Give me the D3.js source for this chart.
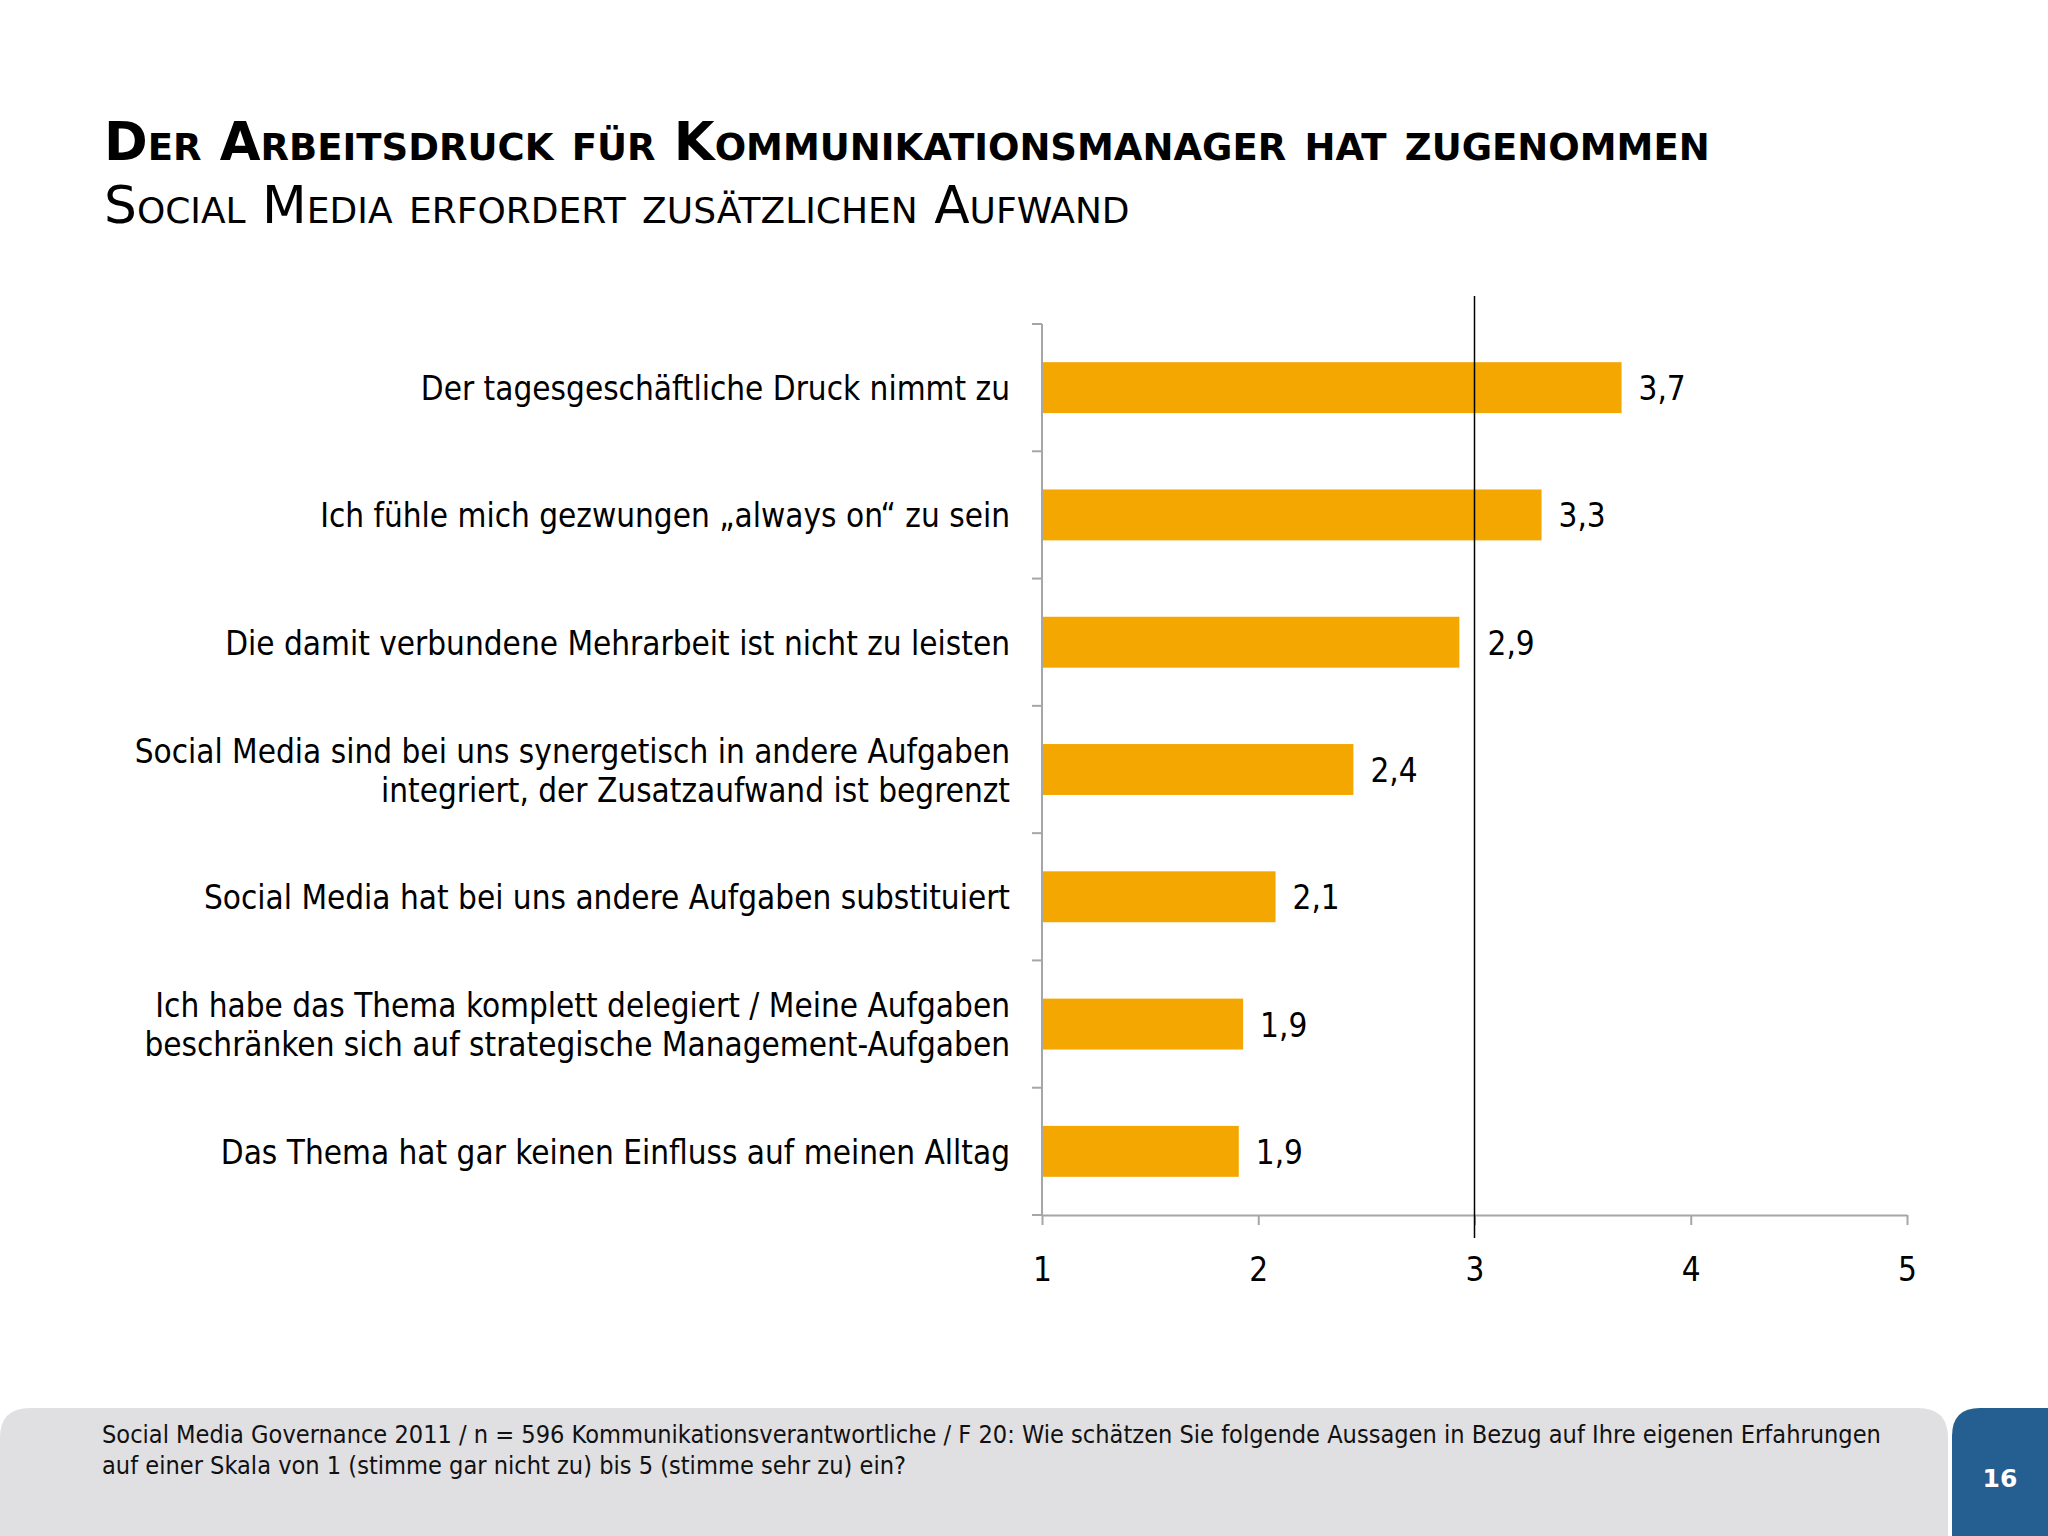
<!DOCTYPE html>
<html><head><meta charset="utf-8">
<script src="https://cdn.jsdelivr.net/npm/d3@7"></script>
<style>
html,body{margin:0;padding:0;background:#fff;}
svg{display:block;}
</style></head>
<body>
<svg id="chart" width="2048" height="1536"></svg>
<script>
const titleLine1 = "Der Arbeitsdruck für Kommunikationsmanager hat zugenommen";
const titleLine2 = "Social Media erfordert zusätzlichen Aufwand";
const categories = [
  ["Der tagesgeschäftliche Druck nimmt zu"],
  ["Ich fühle mich gezwungen „always on“ zu sein"],
  ["Die damit verbundene Mehrarbeit ist nicht zu leisten"],
  ["Social Media sind bei uns synergetisch in andere Aufgaben", "integriert, der Zusatzaufwand ist begrenzt"],
  ["Social Media hat bei uns andere Aufgaben substituiert"],
  ["Ich habe das Thema komplett delegiert / Meine Aufgaben", "beschränken sich auf strategische Management-Aufgaben"],
  ["Das Thema hat gar keinen Einfluss auf meinen Alltag"]
];
const values = [3.68, 3.31, 2.93, 2.44, 2.08, 1.93, 1.91];
const xTicks = [1, 2, 3, 4, 5];
const referenceValue = 3;
const footnote = [
  "Social Media Governance 2011 / n = 596 Kommunikationsverantwortliche / F 20: Wie schätzen Sie folgende Aussagen in Bezug auf Ihre eigenen Erfahrungen",
  "auf einer Skala von 1 (stimme gar nicht zu) bis 5 (stimme sehr zu) ein?"
];
const pageNumber = "16";

const svg = d3.select("#chart");
const FONT = "'DejaVu Sans Condensed', 'DejaVu Sans', sans-serif";

// Title
svg.append("text").attr("x", 104).attr("y", 160)
  .style("font-family", "'DejaVu Sans', sans-serif").style("font-weight", "bold")
  .style("font-variant", "small-caps").style("font-size", "52.7px").attr("fill", "#000")
  .text(titleLine1);
svg.append("text").attr("x", 104).attr("y", 223)
  .style("font-family", "'DejaVu Sans', sans-serif")
  .style("font-variant", "small-caps").style("font-size", "51.8px").attr("fill", "#000")
  .text(titleLine2);

// Scales
const x = d3.scaleLinear().domain([1, 5]).range([1042, 1907]);
const idx = categories.map((d, i) => i);
const y = d3.scaleBand().domain(idx).range([324, 1215]).paddingInner(0.6).paddingOuter(0.3);
const step = y.step();
const axisColor = "#a6a6a6";

// Bars
svg.append("g").selectAll("rect").data(values).join("rect")
  .attr("x", x(1))
  .attr("y", (d, i) => y(i))
  .attr("width", d => x(d) - x(1))
  .attr("height", y.bandwidth())
  .attr("fill", "#f4a700");

// Y axis line + category boundary ticks
const yr = y.range();
const g = svg.append("g");
g.append("line").attr("x1", x(1)).attr("x2", x(1)).attr("y1", yr[0]).attr("y2", yr[1])
  .attr("stroke", axisColor).attr("stroke-width", 2);
g.selectAll("line.yt").data(d3.range(categories.length + 1)).join("line")
  .attr("class", "yt")
  .attr("x1", x(1) - 10).attr("x2", x(1))
  .attr("y1", i => yr[0] + i * step).attr("y2", i => yr[0] + i * step)
  .attr("stroke", axisColor).attr("stroke-width", 2);

// X axis
const xAxis = d3.axisBottom(x).tickValues(xTicks).tickSize(10).tickSizeOuter(0).tickPadding(33)
  .tickFormat(d => String(d));
const xg = svg.append("g").attr("transform", `translate(0,${yr[1]})`).call(xAxis);
xg.select(".domain").attr("stroke", axisColor).attr("stroke-width", 2);
xg.selectAll(".tick line").attr("stroke", axisColor).attr("stroke-width", 2);
xg.selectAll(".tick text").style("font-family", FONT).style("font-size", "33px").attr("fill", "#000");

// Reference line
svg.append("line").attr("x1", x(referenceValue)).attr("x2", x(referenceValue))
  .attr("y1", 296).attr("y2", 1238).attr("stroke", "#000").attr("stroke-width", 1.5);

// Value labels (nudged right when they would touch the reference line)
const fmt = v => d3.format(".1f")(v).replace(".", ",");
const labelX = d => {
  const lx = x(d) + 17;
  const rx = x(referenceValue);
  return (lx < rx + 12 && lx + 45 > rx) ? rx + 13 : lx;
};
svg.append("g").selectAll("text").data(values).join("text")
  .attr("x", d => labelX(d))
  .attr("y", (d, i) => y(i) + y.bandwidth() / 2 + 1)
  .attr("dy", "0.35em")
  .style("font-family", FONT).style("font-size", "33px").attr("fill", "#000")
  .text(d => fmt(d));

// Category labels
const lg = svg.append("g");
categories.forEach((lines, i) => {
  const cy = y(i) + y.bandwidth() / 2 + 1;
  const lh = 39;
  const t = lg.append("text").attr("text-anchor", "end")
    .style("font-family", FONT).style("font-size", "33px").attr("fill", "#000");
  lines.forEach((ln, j) => {
    t.append("tspan").attr("x", 1010)
      .attr("y", cy + (j - (lines.length - 1) / 2) * lh)
      .attr("dy", "0.35em").text(ln);
  });
});

// Footer
const fy = 1408;
svg.append("path")
  .attr("d", `M0,${fy + 30} Q0,${fy} 30,${fy} L1918,${fy} Q1948,${fy} 1948,${fy + 30} L1948,1536 L0,1536 Z`)
  .attr("fill", "#e0dfe2");
svg.append("path")
  .attr("d", `M1952,${fy + 28} Q1952,${fy} 1980,${fy} L2048,${fy} L2048,1536 L1952,1536 Z`)
  .attr("fill", "#255e90");
svg.append("text").attr("x", 2000).attr("y", 1487).attr("text-anchor", "middle")
  .style("font-family", "'DejaVu Sans', sans-serif").style("font-weight", "bold")
  .style("font-size", "25px").attr("fill", "#fff").text(pageNumber);
footnote.forEach((ln, j) => {
  svg.append("text").attr("x", 102).attr("y", 1443 + j * 31)
    .style("font-family", FONT).style("font-size", "25.1px").attr("fill", "#111")
    .text(ln);
});
</script>
</body></html>
